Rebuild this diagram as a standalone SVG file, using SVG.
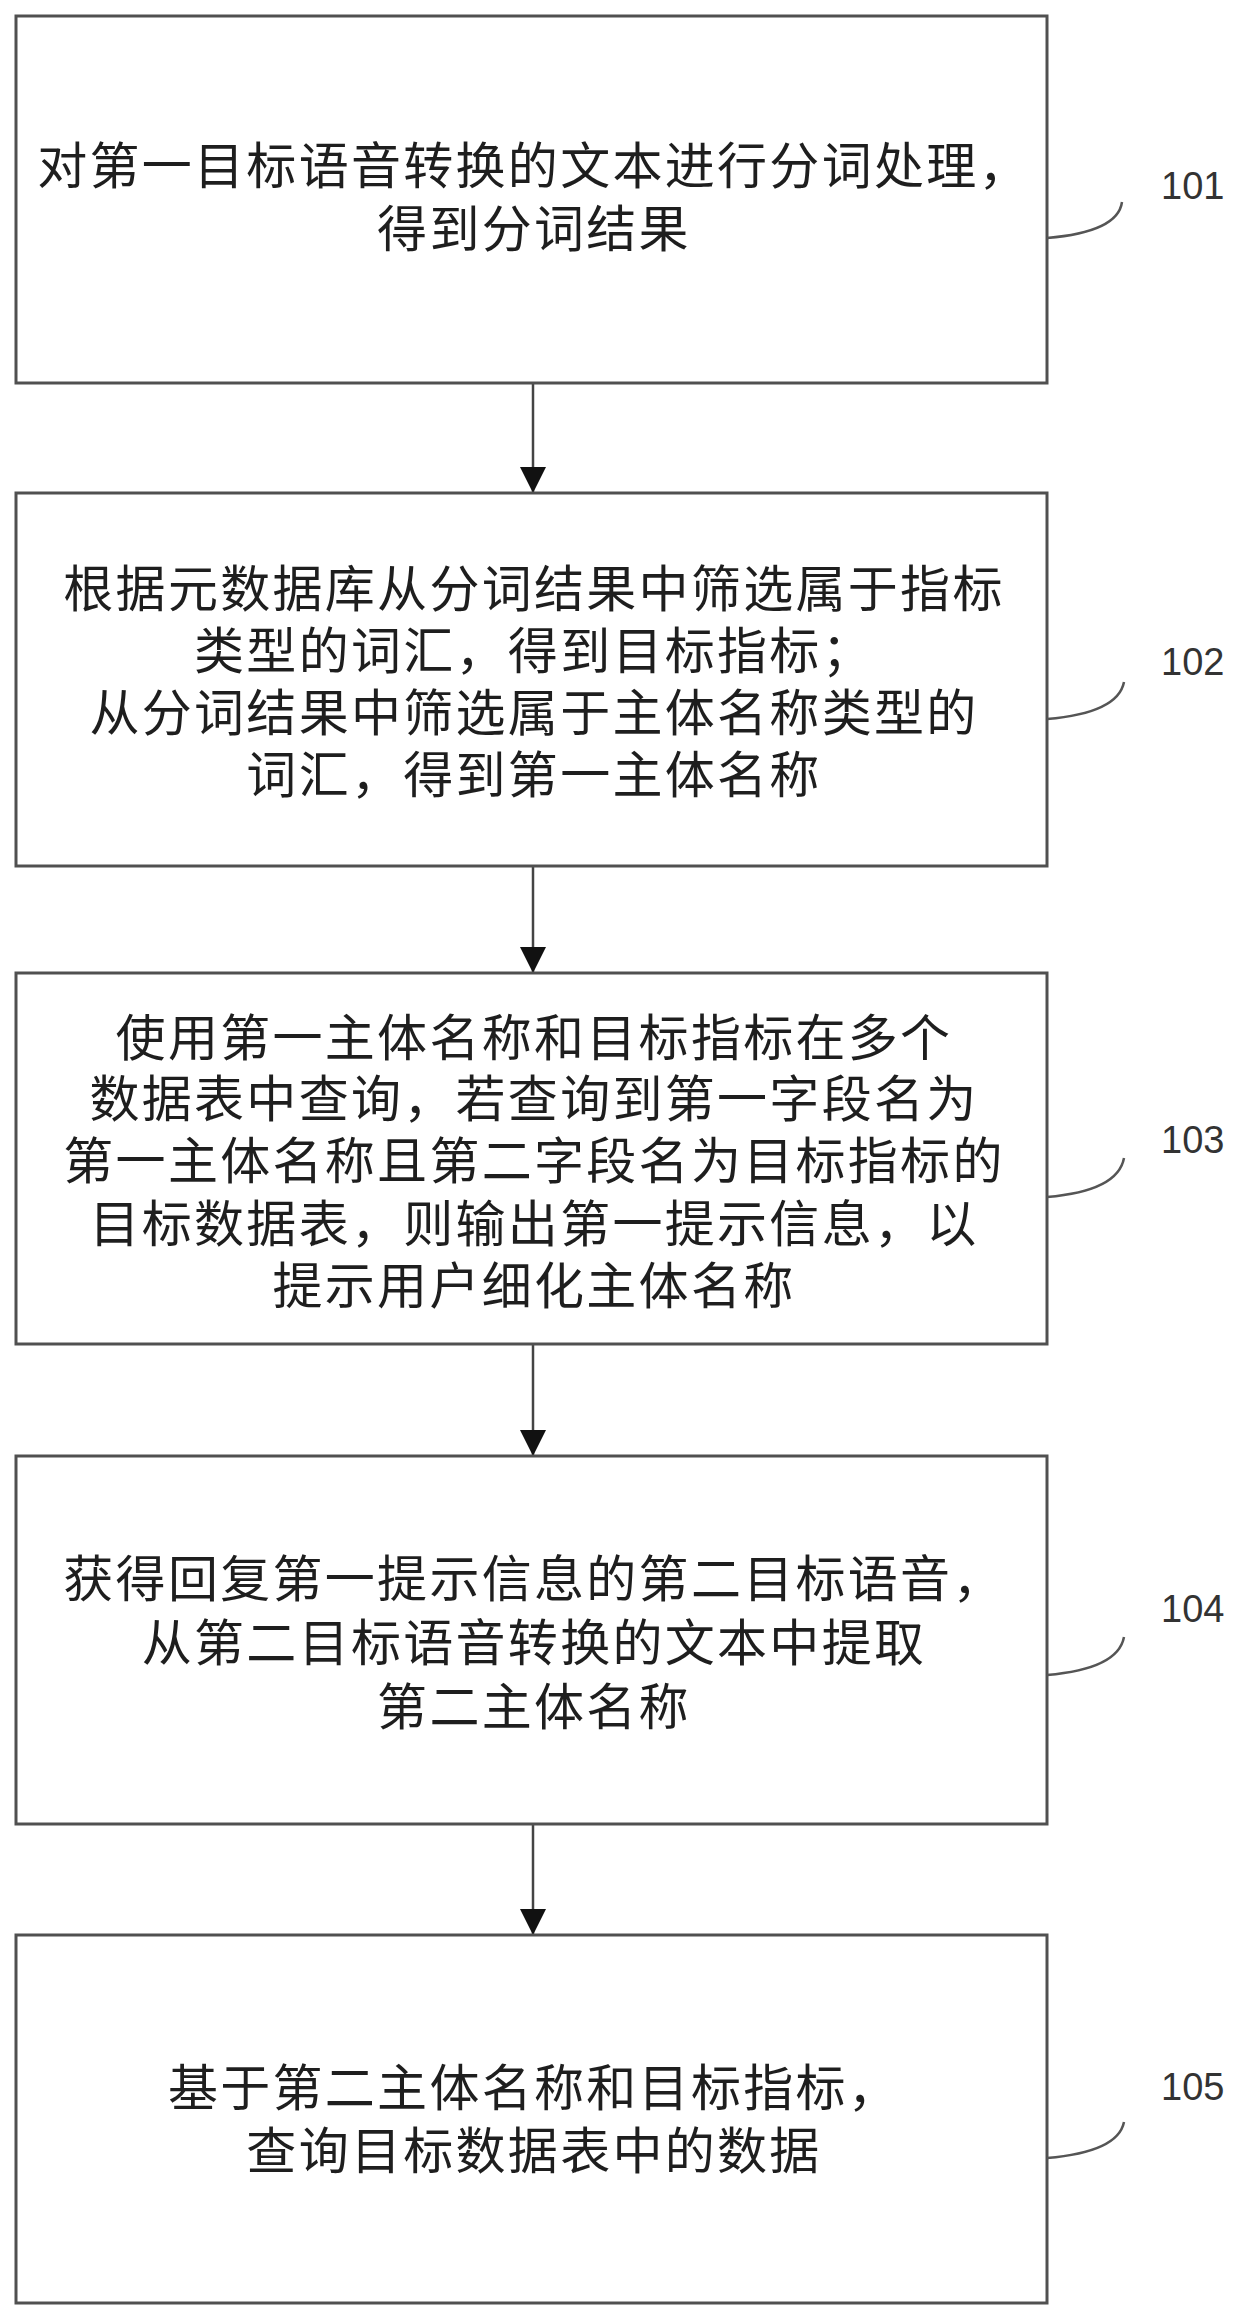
<svg xmlns="http://www.w3.org/2000/svg" width="1245" height="2320" viewBox="0 0 1245 2320">
<style>
.box{fill:#fff;stroke:#505050;stroke-width:3}
.t{font-family:"Liberation Sans","Noto Sans CJK SC",sans-serif;font-size:50px;letter-spacing:2.3px;fill:#1e1e1e;text-anchor:middle}
.lbl{font-family:"Liberation Sans","Noto Sans",sans-serif;font-size:38px;fill:#333}
.lead{fill:none;stroke:#555;stroke-width:2.5}
.conn{stroke:#444;stroke-width:2.5;fill:none}
</style>
<defs>
<marker id="ah" markerUnits="userSpaceOnUse" markerWidth="28" markerHeight="26" refX="26" refY="13" orient="auto">
<path d="M0,0 L26,13 L0,26 Z" fill="#111"/>
</marker>
</defs>
<rect width="1245" height="2320" fill="#fff"/>
<g id="connectors">
<line class="conn" x1="533" y1="383" x2="533" y2="493" marker-end="url(#ah)"/>
<line class="conn" x1="533" y1="866" x2="533" y2="973" marker-end="url(#ah)"/>
<line class="conn" x1="533" y1="1344" x2="533" y2="1456" marker-end="url(#ah)"/>
<line class="conn" x1="533" y1="1824" x2="533" y2="1935" marker-end="url(#ah)"/>
</g>
<g id="n101">
<rect class="box" x="16" y="16" width="1031" height="367"/>
<text class="t" x="534" y="184">对第一目标语音转换的文本进行分词处理，</text>
<text class="t" x="534" y="247">得到分词结果</text>
<path class="lead" d="M1047 238 Q1118 232 1122 202"/>
<text class="lbl" x="1161" y="199">101</text>
</g>
<g id="n102">
<rect class="box" x="16" y="493" width="1031" height="373"/>
<text class="t" x="534" y="607">根据元数据库从分词结果中筛选属于指标</text>
<text class="t" x="534" y="669">类型的词汇，得到目标指标；</text>
<text class="t" x="534" y="731">从分词结果中筛选属于主体名称类型的</text>
<text class="t" x="534" y="793">词汇，得到第一主体名称</text>
<path class="lead" d="M1047 719 Q1118 713 1124 682"/>
<text class="lbl" x="1161" y="675">102</text>
</g>
<g id="n103">
<rect class="box" x="16" y="973" width="1031" height="371"/>
<text class="t" x="534" y="1056">使用第一主体名称和目标指标在多个</text>
<text class="t" x="534" y="1117">数据表中查询，若查询到第一字段名为</text>
<text class="t" x="534" y="1179">第一主体名称且第二字段名为目标指标的</text>
<text class="t" x="534" y="1242">目标数据表，则输出第一提示信息，以</text>
<text class="t" x="534" y="1304">提示用户细化主体名称</text>
<path class="lead" d="M1047 1197 Q1118 1191 1124 1158"/>
<text class="lbl" x="1161" y="1153">103</text>
</g>
<g id="n104">
<rect class="box" x="16" y="1456" width="1031" height="368"/>
<text class="t" x="534" y="1597">获得回复第一提示信息的第二目标语音，</text>
<text class="t" x="534" y="1661">从第二目标语音转换的文本中提取</text>
<text class="t" x="534" y="1725">第二主体名称</text>
<path class="lead" d="M1047 1675 Q1118 1669 1124 1637"/>
<text class="lbl" x="1161" y="1622">104</text>
</g>
<g id="n105">
<rect class="box" x="16" y="1935" width="1031" height="368"/>
<text class="t" x="534" y="2106">基于第二主体名称和目标指标，</text>
<text class="t" x="534" y="2169">查询目标数据表中的数据</text>
<path class="lead" d="M1047 2158 Q1118 2152 1124 2122"/>
<text class="lbl" x="1161" y="2100">105</text>
</g>
</svg>
